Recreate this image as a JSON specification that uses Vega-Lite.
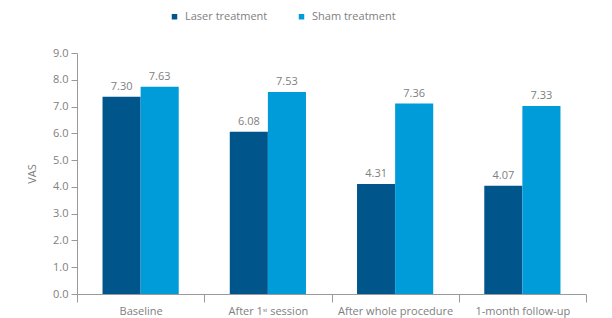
{
  "$schema": "https://vega.github.io/schema/vega-lite/v6.json",
  "width": 509,
  "height": 241,
  "autosize": "none",
  "padding": {"left": 77, "top": 53, "right": 26, "bottom": 24},
  "config": {
    "view": {"stroke": null},
    "font": "Open Sans",
    "axis": {"labelColor": "#808080", "titleColor": "#808080", "labelFont": "Open Sans", "titleFont": "Open Sans", "domainColor": "#9a9a9a", "tickColor": "#9a9a9a", "labelFontSize": 11, "grid": false}
  },
  "data": {
    "values": [
      {"time": "Baseline", "group": "Laser treatment", "vas": 7.37, "label": "7.30"},
      {"time": "Baseline", "group": "Sham treatment", "vas": 7.74, "label": "7.63"},
      {"time": "After 1ˢᵗ session", "group": "Laser treatment", "vas": 6.06, "label": "6.08"},
      {"time": "After 1ˢᵗ session", "group": "Sham treatment", "vas": 7.54, "label": "7.53"},
      {"time": "After whole procedure", "group": "Laser treatment", "vas": 4.11, "label": "4.31"},
      {"time": "After whole procedure", "group": "Sham treatment", "vas": 7.11, "label": "7.36"},
      {"time": "1-month follow-up", "group": "Laser treatment", "vas": 4.04, "label": "4.07"},
      {"time": "1-month follow-up", "group": "Sham treatment", "vas": 7.02, "label": "7.33"}
    ]
  },
  "encoding": {
    "x": {
      "field": "time", "type": "nominal", "sort": null,
      "scale": {"paddingInner": 0, "paddingOuter": 0},
      "axis": {"title": null, "labelAngle": 0, "tickBand": "extent", "tickSize": 8, "labelPadding": 3, "labelFontSize": 11}
    },
    "xOffset": {"field": "group", "type": "nominal", "scale": {"paddingInner": 0, "paddingOuter": 0.67}},
    "y": {
      "field": "vas", "type": "quantitative",
      "scale": {"domain": [0, 9], "nice": false},
      "axis": {"title": "VAS", "format": ".1f", "values": [0,1,2,3,4,5,6,7,8,9], "labelOverlap": false, "tickSize": 6, "labelPadding": 3, "titlePadding": 15, "titleFontSize": 11, "titleFontWeight": "normal"}
    }
  },
  "layer": [
    {
      "mark": {"type": "bar"},
      "encoding": {
        "color": {
          "field": "group", "type": "nominal",
          "scale": {"domain": ["Laser treatment", "Sham treatment"], "range": ["#00568b", "#009cda"]},
          "legend": {"title": null, "orient": "none", "legendX": 92, "legendY": -42, "direction": "horizontal", "symbolType": "square", "symbolSize": 30, "symbolStrokeWidth": 0, "labelFontSize": 11, "labelColor": "#808080", "labelFont": "Open Sans", "columnPadding": 28, "labelOffset": 5}
        }
      }
    },
    {
      "mark": {"type": "text", "baseline": "bottom", "dy": -5, "fontSize": 11, "color": "#808080"},
      "encoding": {"text": {"field": "label"}}
    }
  ]
}
